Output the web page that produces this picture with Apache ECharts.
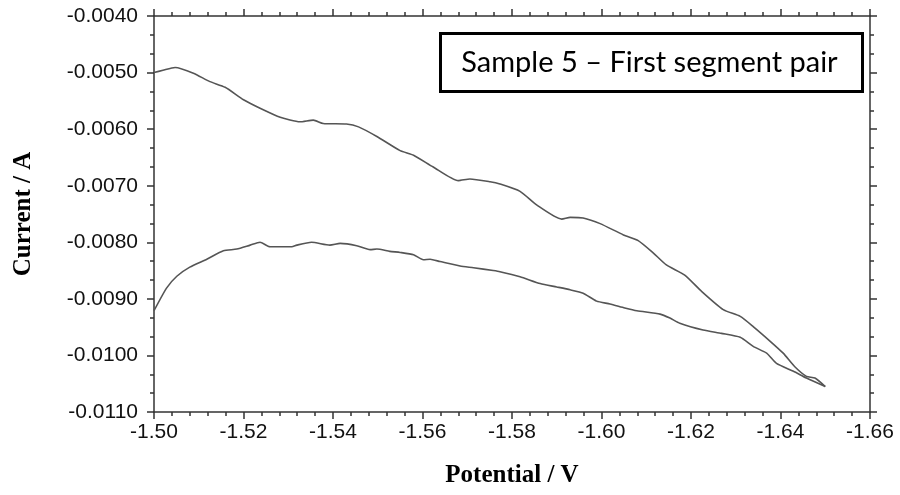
<!DOCTYPE html>
<html>
<head>
<meta charset="utf-8">
<script src="https://cdn.jsdelivr.net/npm/echarts@6.0.0/dist/echarts.min.js"></script>
<style>
  html, body { margin: 0; padding: 0; background: #fff; }
  #chart { width: 900px; height: 495px; }
</style>
</head>
<body>
<div id="chart"></div>
<script>
// ===== data =====
// forward scan, -1.50 V -> -1.65 V (upper curve)
const fwdPotential = [-1.5000, -1.5020, -1.5047, -1.5088, -1.5125, -1.5159, -1.5200, -1.5237, -1.5282, -1.5326, -1.5356,
  -1.5378, -1.5430, -1.5457, -1.5498, -1.5550, -1.5580, -1.5624, -1.5680, -1.5706, -1.5751, -1.5773,
  -1.5818, -1.5855, -1.5911, -1.5930, -1.5959, -1.5997, -1.6049, -1.6082, -1.6116, -1.6145, -1.6186,
  -1.6224, -1.6272, -1.6310, -1.6339, -1.6377, -1.6406, -1.6432, -1.6458, -1.6477, -1.6500];
const fwdCurrent = [-0.00500, -0.00496, -0.00491, -0.00501, -0.00516, -0.00526, -0.00548, -0.00563, -0.00579, -0.00587, -0.00584,
  -0.00590, -0.00591, -0.00596, -0.00613, -0.00638, -0.00646, -0.00667, -0.00691, -0.00688, -0.00693, -0.00697,
  -0.00710, -0.00734, -0.00759, -0.00756, -0.00757, -0.00767, -0.00787, -0.00797, -0.00819, -0.00840, -0.00858,
  -0.00887, -0.00919, -0.00931, -0.00949, -0.00975, -0.00996, -0.01020, -0.01037, -0.01040, -0.01055];

// reverse scan, -1.65 V -> -1.50 V (lower curve)
const revPotential = [-1.6500, -1.6458, -1.6429, -1.6391, -1.6369, -1.6339, -1.6310, -1.6268, -1.6227, -1.6175, -1.6153,
  -1.6131, -1.6079, -1.6052, -1.6019, -1.5989, -1.5959, -1.5930, -1.5900, -1.5863, -1.5818, -1.5773,
  -1.5758, -1.5714, -1.5684, -1.5639, -1.5617, -1.5602, -1.5580, -1.5550, -1.5527, -1.5498, -1.5483,
  -1.5453, -1.5416, -1.5393, -1.5352, -1.5319, -1.5308, -1.5259, -1.5237, -1.5215, -1.5185, -1.5155,
  -1.5118, -1.5080, -1.5051, -1.5028, -1.5000];
const revCurrent = [-0.01055, -0.01040, -0.01028, -0.01014, -0.00996, -0.00984, -0.00968, -0.00961, -0.00955, -0.00943, -0.00934,
  -0.00927, -0.00921, -0.00916, -0.00909, -0.00904, -0.00890, -0.00884, -0.00879, -0.00873, -0.00861, -0.00852,
  -0.00850, -0.00845, -0.00842, -0.00834, -0.00830, -0.00831, -0.00822, -0.00818, -0.00816, -0.00812, -0.00813,
  -0.00806, -0.00802, -0.00805, -0.00800, -0.00805, -0.00808, -0.00808, -0.00800, -0.00805, -0.00812, -0.00815,
  -0.00830, -0.00844, -0.00860, -0.00881, -0.00921];

const annotation = 'Sample 5 \u2013 First segment pair';

const chart = echarts.init(document.getElementById('chart'));

const pairs = (xs, ys) => xs.map((x, i) => [x, ys[i]]);

const axisLine = { show: true, lineStyle: { color: '#333', width: 1.5 } };
const tickFont = { color: '#111', fontFamily: 'Liberation Sans', fontSize: 21 };
const titleFont = { fontFamily: 'Liberation Serif', fontWeight: 'bold', fontSize: 25, color: '#000' };

chart.setOption({
  animation: false,
  grid: { left: 154, right: 30, top: 16, bottom: 83 },
  xAxis: [{
    type: 'value',
    inverse: true,
    min: -1.66, max: -1.50, interval: 0.02,
    name: 'Potential / V',
    nameLocation: 'middle',
    nameGap: 51,
    nameTextStyle: titleFont,
    axisLine: axisLine,
    axisTick: { show: true, inside: false, length: 7, lineStyle: { color: '#333', width: 1.5 } },
    minorTick: { show: true, splitNumber: 5, length: 4, lineStyle: { color: '#333', width: 1.5 } },
    splitLine: { show: false },
    axisLabel: Object.assign({ margin: 10, formatter: v => v.toFixed(2) }, tickFont)
  }, {
    type: 'value',
    position: 'top',
    inverse: true,
    min: -1.66, max: -1.50, interval: 0.02,
    axisLine: axisLine,
    axisTick: { show: true, length: 7, lineStyle: { color: '#333', width: 1.5 } },
    minorTick: { show: true, splitNumber: 5, length: 4, lineStyle: { color: '#333', width: 1.5 } },
    splitLine: { show: false },
    axisLabel: { show: false }
  }],
  yAxis: [{
    type: 'value',
    min: -0.011, max: -0.004, interval: 0.001,
    name: 'Current / A',
    nameLocation: 'middle',
    nameGap: 118,
    nameRotate: 90,
    nameTextStyle: titleFont,
    axisLine: axisLine,
    axisTick: { show: true, length: 7, lineStyle: { color: '#333', width: 1.5 } },
    minorTick: { show: true, splitNumber: 3, length: 4, lineStyle: { color: '#333', width: 1.5 } },
    splitLine: { show: false },
    axisLabel: Object.assign({ margin: 16, formatter: v => v.toFixed(4) }, tickFont)
  }, {
    type: 'value',
    position: 'right',
    min: -0.011, max: -0.004, interval: 0.001,
    axisLine: axisLine,
    axisTick: { show: true, length: 7, lineStyle: { color: '#333', width: 1.5 } },
    minorTick: { show: true, splitNumber: 3, length: 4, lineStyle: { color: '#333', width: 1.5 } },
    splitLine: { show: false },
    axisLabel: { show: false }
  }],
  series: [{
    type: 'line',
    data: pairs(fwdPotential, fwdCurrent),
    showSymbol: false,
    smooth: 0.2,
    lineStyle: { color: '#555', width: 1.6 }
  }, {
    type: 'line',
    data: pairs(revPotential, revCurrent),
    showSymbol: false,
    smooth: 0.2,
    lineStyle: { color: '#555', width: 1.6 }
  }],
  graphic: [{
    type: 'group',
    left: 439, top: 32,
    children: [{
      type: 'rect',
      shape: { x: 0, y: 0, width: 422, height: 58 },
      style: { fill: '#fff', stroke: '#000', lineWidth: 3 }
    }, {
      type: 'text',
      x: 209, y: 29,
      style: {
        text: annotation,
        fontFamily: 'Lato',
        fontSize: 29,
        fill: '#000',
        align: 'center',
        verticalAlign: 'middle'
      }
    }]
  }]
});
</script>
</body>
</html>
